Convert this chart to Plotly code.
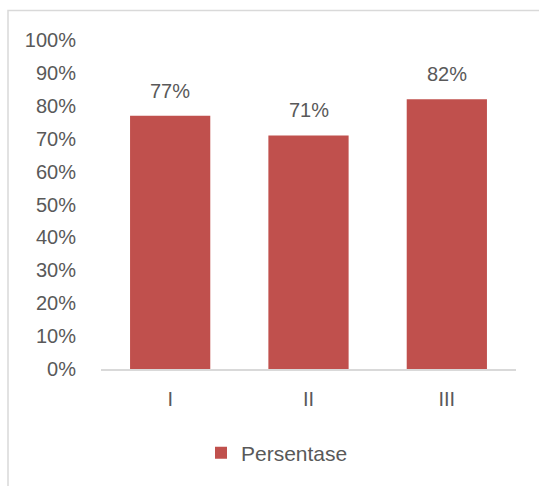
import plotly.graph_objects as go

categories = ["I", "II", "III"]
values = [0.77, 0.71, 0.82]
labels = ["77%", "71%", "82%"]
series_name = "Persentase"

BAR = "#C0504D"
TXT = "#595959"
LINE = "#D9D9D9"
FONT = "Liberation Sans, Arial, sans-serif"

fig = go.Figure()
fig.add_trace(go.Bar(x=categories, y=values, name=series_name, marker_color=BAR,
                     marker_line_width=0))

for c, v, t in zip(categories, values, labels):
    fig.add_annotation(x=c, y=v, text=t, showarrow=False, yanchor="bottom",
                       yshift=12, font=dict(family=FONT, size=20, color=TXT))

fig.add_shape(type="rect", xref="paper", yref="paper",
              x0=(8 - 101) / 415, x1=(560 - 101) / 415,
              y0=(369 - 520) / 329, y1=(369 - 10.5) / 329,
              line=dict(color=LINE, width=1.5), fillcolor="rgba(0,0,0,0)", layer="below")

fig.update_layout(
    width=539, height=486,
    margin=dict(l=101, r=23, t=40, b=117),
    paper_bgcolor="white", plot_bgcolor="white",
    bargap=0.42,
    showlegend=True,
    legend=dict(orientation="h", x=(201 - 101) / 415, xanchor="left", y=(369 - 453) / 329,
                yanchor="middle", itemwidth=30,
                font=dict(family=FONT, size=21, color=TXT)),
    font=dict(family=FONT, size=20, color=TXT),
)
fig.update_yaxes(range=[0, 1], dtick=0.1, tickformat=".0%", showgrid=False,
                 zeroline=False, showline=False, ticks="outside", ticklen=20,
                 tickcolor="rgba(0,0,0,0)", tickfont=dict(family=FONT, size=20, color=TXT))
fig.update_xaxes(showline=True, linecolor=LINE, linewidth=2, ticks="outside",
                 ticklen=11, tickcolor="rgba(0,0,0,0)",
                 tickfont=dict(family=FONT, size=20, color=TXT))

fig.write_html("out.html")
